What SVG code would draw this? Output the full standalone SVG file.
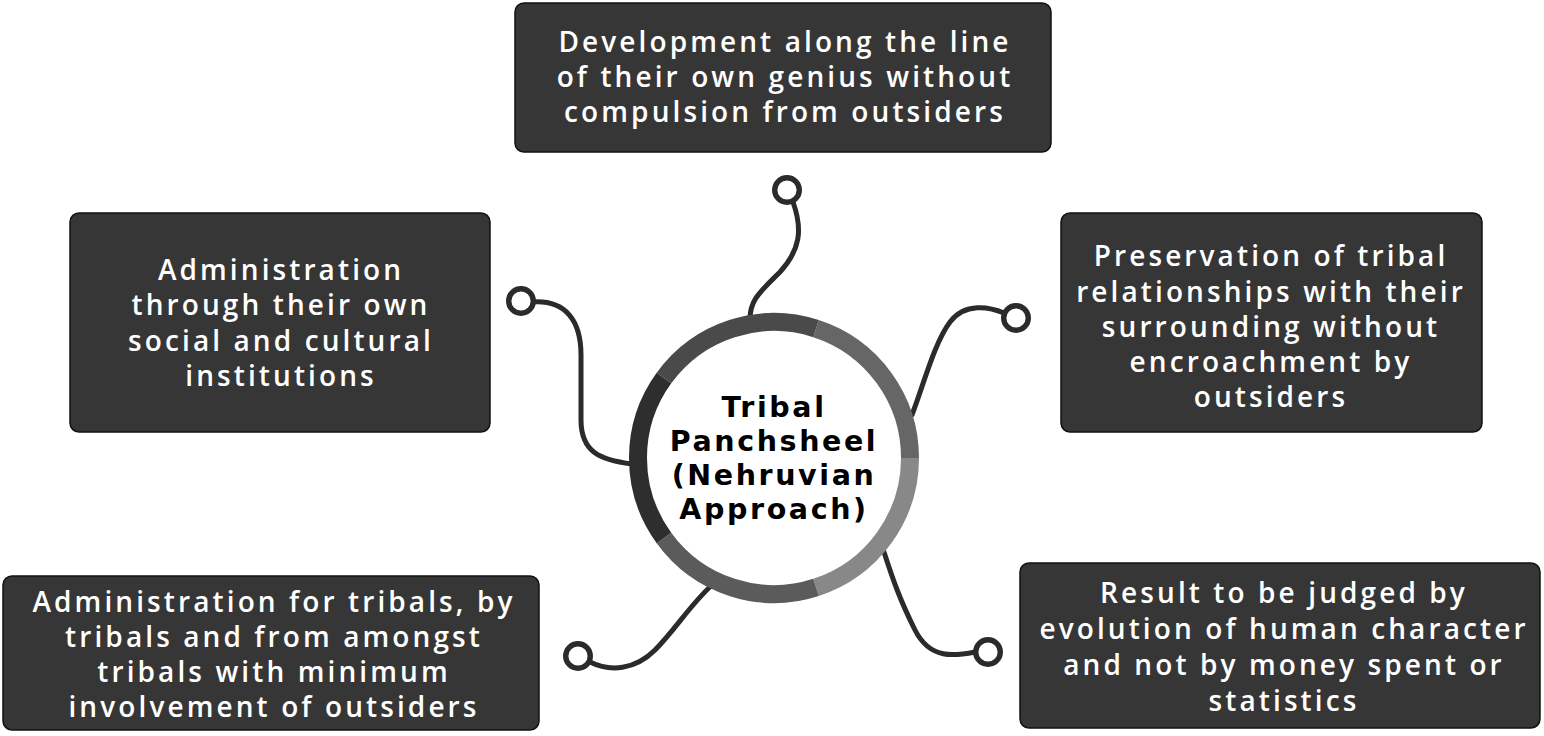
<svg xmlns="http://www.w3.org/2000/svg" width="1544" height="736" viewBox="0 0 1544 736">
<style>
.box{fill:#363636;stroke:#111;stroke-width:1.5}
.bt{fill:#fff;font-family:"Open Sans","DejaVu Sans",sans-serif;font-weight:600;font-size:28px;letter-spacing:3.1px;text-anchor:middle}
.conn path{fill:none;stroke:#2b2b2b;stroke-width:5;stroke-linecap:round}
.conn circle{fill:#fff;stroke:#2b2b2b;stroke-width:5.4}
.ring{fill:none;stroke-width:18}
.ct{fill:#000;font-family:"DejaVu Sans",sans-serif;font-weight:bold;font-size:28.5px;letter-spacing:2.6px;text-anchor:middle}
</style>
<rect width="1544" height="736" fill="#fff"/>
<g id="connectors" class="conn">
<path d="M 793 202 C 803 230, 800 250, 780 272 C 760 292, 749 300, 750 322"/>
<circle cx="787" cy="190" r="12.3"/>
<path d="M 533 302 C 565 300, 581 320, 581 355 L 581 420 C 581 452, 600 460, 632 464"/>
<circle cx="521" cy="301" r="12.3"/>
<path d="M 1004 313 C 990 307, 965 302, 950 322 C 935 342, 925 380, 912 415"/>
<circle cx="1016" cy="318" r="12.3"/>
<path d="M 590 662 C 610 672, 635 670, 655 650 C 675 630, 690 605, 712 585"/>
<circle cx="578" cy="656" r="12.3"/>
<path d="M 975 652 C 955 656, 930 660, 915 630 C 900 600, 893 580, 884 552"/>
<circle cx="988" cy="652" r="12.3"/>
</g>
<g id="center">
<circle cx="774" cy="458" r="136" fill="#fff"/>
<path class="ring" stroke="#666666" d="M 816.03 328.65 A 136 136 0 0 1 910 458"/>
<path class="ring" stroke="#888888" d="M 910 458 A 136 136 0 0 1 816.03 587.35"/>
<path class="ring" stroke="#5b5b5b" d="M 816.03 587.35 A 136 136 0 0 1 663.97 537.94"/>
<path class="ring" stroke="#2e2e2e" d="M 663.97 537.94 A 136 136 0 0 1 663.97 378.06"/>
<path class="ring" stroke="#4a4a4a" d="M 663.97 378.06 A 136 136 0 0 1 816.03 328.65"/>
<text class="ct" x="774" y="417">Tribal</text>
<text class="ct" x="774" y="451">Panchsheel</text>
<text class="ct" x="774" y="485">(Nehruvian</text>
<text class="ct" x="774" y="519">Approach)</text>
</g>
<g id="node-top">
<rect class="box" x="515" y="3" width="536" height="149" rx="9"/>
<text class="bt" x="785" y="52">Development along the line</text>
<text class="bt" x="785" y="87">of their own genius without</text>
<text class="bt" x="785" y="122">compulsion from outsiders</text>
</g>
<g id="node-left-top">
<rect class="box" x="70" y="213" width="420" height="219" rx="9"/>
<text class="bt" x="281" y="280">Administration</text>
<text class="bt" x="281" y="315">through their own</text>
<text class="bt" x="281" y="351">social and cultural</text>
<text class="bt" x="281" y="386">institutions</text>
</g>
<g id="node-right-top">
<rect class="box" x="1061" y="213" width="421" height="219" rx="9"/>
<text class="bt" x="1271" y="266">Preservation of tribal</text>
<text class="bt" x="1271" y="302">relationships with their</text>
<text class="bt" x="1271" y="337">surrounding without</text>
<text class="bt" x="1271" y="372">encroachment by</text>
<text class="bt" x="1271" y="407">outsiders</text>
</g>
<g id="node-left-bottom">
<rect class="box" x="3" y="576" width="536" height="154" rx="9"/>
<text class="bt" x="274" y="612">Administration for tribals, by</text>
<text class="bt" x="274" y="647">tribals and from amongst</text>
<text class="bt" x="274" y="682">tribals with minimum</text>
<text class="bt" x="274" y="717">involvement of outsiders</text>
</g>
<g id="node-right-bottom">
<rect class="box" x="1020" y="563" width="520" height="165" rx="9"/>
<text class="bt" x="1284" y="603">Result to be judged by</text>
<text class="bt" x="1284" y="639">evolution of human character</text>
<text class="bt" x="1284" y="675">and not by money spent or</text>
<text class="bt" x="1284" y="711">statistics</text>
</g>
</svg>
